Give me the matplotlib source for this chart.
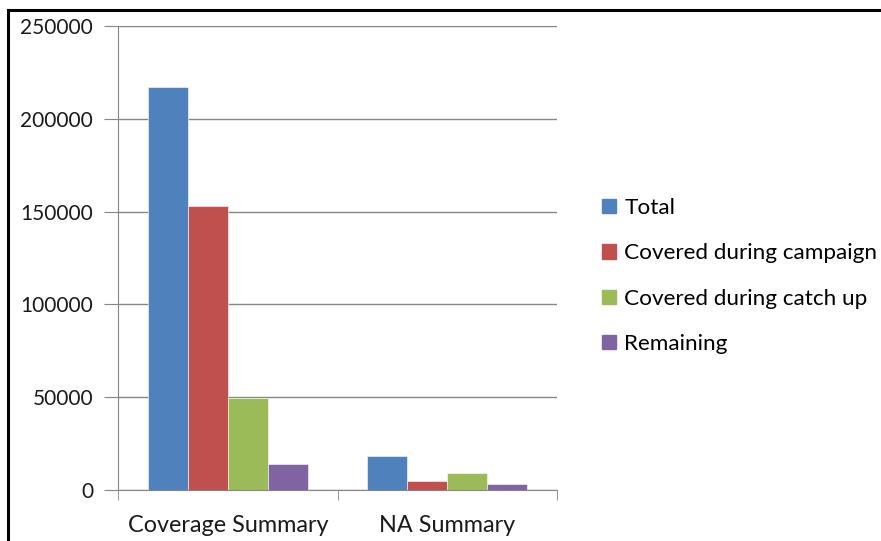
import matplotlib.pyplot as plt
from matplotlib.lines import Line2D
from matplotlib.patches import Patch
import numpy as np

plt.rcParams['font.family'] = ['Lato', 'DejaVu Sans']

# 数据
categories = ['Coverage Summary', 'NA Summary']
series = ['Total', 'Covered during campaign', 'Covered during catch up', 'Remaining']
total = [217300, 18300]
campaign = [153200, 5000]
catch_up = [49700, 9300]
remaining = [14200, 3200]
values = [total, campaign, catch_up, remaining]
colors = ['#4F81BD', '#C0504D', '#9BBB59', '#8064A2']

fig = plt.figure(figsize=(8.81, 5.41), dpi=100)
ax = fig.add_axes([118 / 881, 51 / 541, 439 / 881, 464 / 541])

bw = 1 / 5.5  # 间隙宽度150%
x = np.arange(len(categories)) + 0.5
for i, (vals, c) in enumerate(zip(values, colors)):
    ax.bar(x + (i - 1.5) * bw, vals, width=bw, color=c, label=series[i],
           edgecolor='white', linewidth=0.4, zorder=3)

ax.set_xlim(0, len(categories))
ax.set_ylim(0, 250000)
ax.set_yticks(np.arange(0, 250001, 50000))
ax.set_xticks(x)
ax.set_xticklabels(categories)
ax.set_xticks(np.arange(0, len(categories) + 1), minor=True)
ax.tick_params(axis='x', which='major', length=0, pad=18, labelsize=16.8, colors='#1a1a1a')
ax.tick_params(axis='x', which='minor', length=7, color='#868686')
ax.tick_params(axis='y', length=10, color='#868686', pad=8, labelsize=15, labelcolor='#1a1a1a')

ax.grid(axis='y', color='#868686', linewidth=1, zorder=0)
for s in ['top', 'right']:
    ax.spines[s].set_visible(False)
for s in ['left', 'bottom']:
    ax.spines[s].set_color('#868686')

handles = [Patch(color=c) for c in colors]
fig.legend(handles, series, loc='center left', bbox_to_anchor=(593 / 881, 1 - 276 / 541),
           frameon=False, fontsize=16.2, handlelength=0.6, handleheight=0.6,
           handletextpad=0.4, labelspacing=1.12, borderaxespad=0)

# 外框
fig.add_artist(Line2D([8 / 881, 8 / 881], [0, 1 - 10 / 541], color='black', linewidth=2.2))
fig.add_artist(Line2D([8 / 881, 1], [1 - 10 / 541, 1 - 10 / 541], color='black', linewidth=2.2))

plt.savefig('out.png', dpi=100)
